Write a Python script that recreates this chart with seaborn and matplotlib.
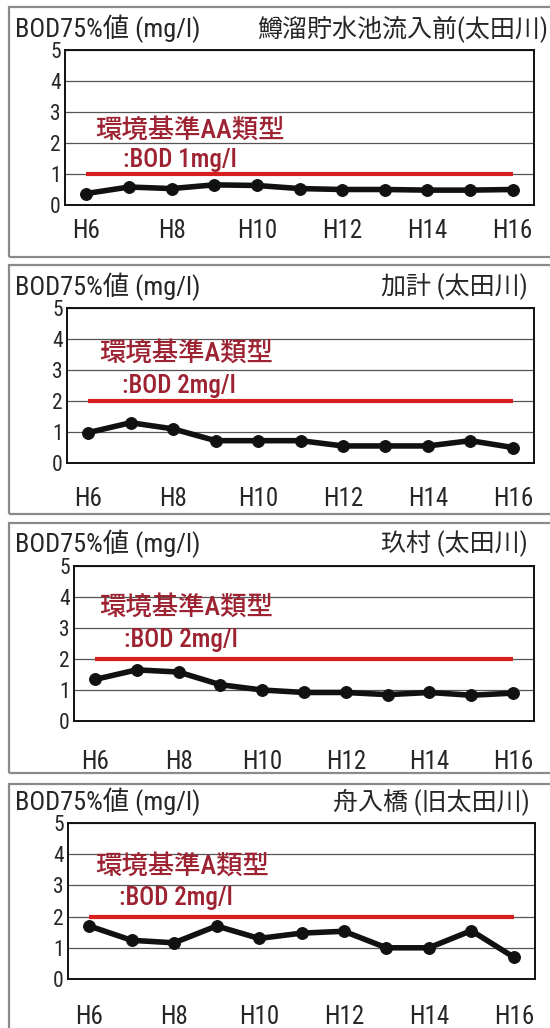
import numpy as np
import pandas as pd
import matplotlib
matplotlib.use("Agg")
import matplotlib.pyplot as plt
from matplotlib.patches import Rectangle
import seaborn as sns

# Data (BOD 75% values, mg/l)
years = ["H6", "H7", "H8", "H9", "H10", "H11", "H12", "H13", "H14", "H15", "H16"]
masudome = [0.37, 0.58, 0.53, 0.65, 0.63, 0.53, 0.50, 0.50, 0.48, 0.48, 0.50]
kake = [0.98, 1.30, 1.10, 0.72, 0.72, 0.72, 0.55, 0.55, 0.55, 0.72, 0.50]
kumura = [1.34, 1.65, 1.58, 1.17, 1.00, 0.92, 0.92, 0.85, 0.92, 0.83, 0.90]
funairi = [1.70, 1.24, 1.16, 1.70, 1.30, 1.47, 1.53, 1.00, 1.00, 1.55, 0.70]

stations = ["鱒溜貯水池流入前(太田川)", "加計 (太田川)", "玖村 (太田川)", "舟入橋 (旧太田川)"]
standards = [1, 2, 2, 2]
std_names = ["環境基準AA類型", "環境基準A類型", "環境基準A類型", "環境基準A類型"]
series = [masudome, kake, kumura, funairi]

sns.set_style("white")
plt.rcParams["font.family"] = ["Roboto Condensed", "Liberation Sans Narrow", "Noto Sans CJK JP", "DejaVu Sans"]
plt.rcParams["font.stretch"] = "condensed"

W, H = 550, 1028
fig = plt.figure(figsize=(W / 100, H / 100), dpi=100)

# pixel layouts: axes (left, top, right, bottom), box (left, top, right, bottom), title y, right title x, label pad
layouts = [
    ((65, 50, 534, 205), (9, 7, 560, 257), 29, 548, 10),
    ((67, 308, 534, 463), (9, 265, 560, 514), 287, 528, 17),
    ((74, 566, 534, 721), (9, 523, 560, 773), 544, 528, 21),
    ((68, 823, 535, 979), (9, 784, 560, 1040), 802, 530, 19),
]
# positions of the red annotation (x start, y) in data units
note_pos = [((0.2, 2.42), (0.85, 1.45)), ((0.25, 3.55), (0.8, 2.5)),
            ((0.1, 3.68), (0.7, 2.6)), ((0.15, 3.6), (0.7, 2.6))]

red_line = "#d81e1e"
red_text = "#9e2332"

for i, (vals, lay) in enumerate(zip(series, layouts)):
    (al, at, ar, ab), (bl, bt, br, bb), ty, tx, pad = lay
    fig.patches.append(Rectangle((bl / W, 1 - bb / H), (br - bl) / W, (bb - bt) / H,
                                 transform=fig.transFigure, fill=False,
                                 edgecolor="#8a8a8a", linewidth=1.6))
    ax = fig.add_axes([al / W, 1 - ab / H, (ar - al) / W, (ab - at) / H])
    df = pd.DataFrame({"x": np.arange(len(years)), "bod": vals})

    ax.hlines(standards[i], 0, len(years) - 1, color=red_line, linewidth=3, zorder=2)
    sns.lineplot(data=df, x="x", y="bod", ax=ax, color="#111111", linewidth=4,
                 marker="o", markersize=8.5, markeredgecolor="#111111", zorder=3)

    ax.set_xlim(-0.5, len(years) - 0.5)
    ax.set_ylim(0, 5)
    ax.set_yticks(range(6))
    ax.set_yticklabels([str(v) for v in range(6)], fontsize=15.5)
    ax.set_xticks(np.arange(0, len(years), 2))
    ax.set_xticklabels(years[::2], fontsize=18)
    ax.set_xticks(np.arange(0.5, len(years) - 1, 1), minor=True)
    ax.tick_params(axis="x", which="major", length=0, pad=pad)
    ax.tick_params(axis="x", which="minor", direction="in", length=5, width=0.8, color="#444444")
    ax.tick_params(axis="y", length=0, pad=3)
    ax.yaxis.grid(True, color="#555555", linewidth=0.9)
    ax.set_axisbelow(True)
    for s in ax.spines.values():
        s.set_color("#111111")
        s.set_linewidth(1.4)
    ax.set_xlabel("")
    ax.set_ylabel("")

    (mx, my), (sx, sy) = note_pos[i]
    ax.text(mx, my, std_names[i], color=red_text, fontsize=19, fontweight="medium",
            va="center", ha="left")
    ax.text(sx, sy, f":BOD {standards[i]}mg/l", color=red_text, fontsize=18,
            fontweight="medium", va="center", ha="left")

    fig.text(15 / W, 1 - ty / H, "BOD75%値 (mg/l)", fontsize=19, va="center", ha="left")
    fig.text(tx / W, 1 - ty / H, stations[i], fontsize=18, va="center", ha="right")

fig.savefig("out.png", dpi=100)
